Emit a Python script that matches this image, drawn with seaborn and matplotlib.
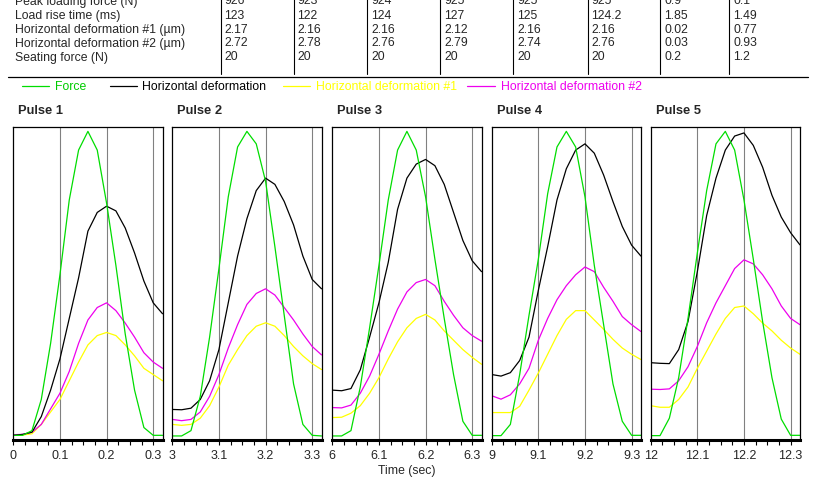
import numpy as np
import pandas as pd
import seaborn as sns
from matplotlib import pyplot as plt
from matplotlib.lines import Line2D

# time within each pulse (s) and pulse start offsets (s)
t = [0, 0.02, 0.04, 0.06, 0.08, 0.10, 0.12, 0.14, 0.16, 0.18, 0.20, 0.22, 0.24, 0.26, 0.28, 0.30, 0.32]
offsets = [0, 3, 6, 9, 12]
pulse_names = ['Pulse 1', 'Pulse 2', 'Pulse 3', 'Pulse 4', 'Pulse 5']

# curves as % of full scale
force = [
    [1.5, 1.5, 3, 13, 31, 53, 77, 93, 99, 93, 76, 56, 34, 16, 4, 1.5, 1.5],
    [1.3, 1.3, 3, 14, 33, 55, 78, 94, 99, 95, 83, 62, 40, 18, 5, 1.5, 1.3],
    [1.3, 1.3, 3, 17, 36, 56, 77, 93, 99, 93, 78, 58, 39, 21, 6, 1.5, 1.5],
    [1.4, 1.4, 5, 21, 40, 58, 79, 94, 99, 94, 78, 56, 37, 18, 6, 1.5, 1.5],
    [1.4, 1.4, 7, 20, 39, 60, 80, 95, 99, 93, 77, 58, 38, 20, 6.7, 1.5, 1.5],
]
hdef = [
    [1.5, 1.8, 2.5, 7.5, 16, 26, 39, 52, 67, 73, 75, 73.5, 68, 60, 51, 44, 40.5],
    [9.8, 9.7, 10.2, 13, 19, 29, 44, 59, 71, 80, 84, 82, 76.5, 69, 59, 51.5, 48.5],
    [16, 15.8, 16.5, 22.5, 33, 44, 57, 74, 84, 88.5, 90, 88, 82, 73, 64, 57.5, 54],
    [21, 20.5, 21.6, 25.5, 33, 48, 62, 77, 87, 93, 95, 92, 85, 76.5, 68.5, 62.5, 59],
    [24.8, 24.6, 24.5, 29, 38, 54, 72, 84, 93, 97.5, 98.5, 94.5, 87.5, 78.5, 71.5, 66.5, 62.6],
]
hdef1 = [
    [1.5, 1.6, 2, 5, 9, 13, 19, 25, 30.5, 33.5, 34.5, 33.5, 30.5, 27, 23, 21, 19],
    [5, 4.7, 5, 7, 11, 17, 24, 29, 33.5, 36.5, 37.6, 36.5, 33.5, 30, 27, 24.5, 22.6],
    [7.2, 7.3, 8.6, 11, 15, 20, 26, 31.5, 36, 39, 40.3, 38.5, 35, 32, 29, 26.5, 24.3],
    [8.8, 8.8, 8.8, 10.8, 16, 21.5, 27.5, 33.5, 38.7, 41.5, 41.5, 38.5, 35.5, 32.3, 29.5, 27.5, 25.8],
    [11, 10.5, 10.5, 13, 17, 23, 28.5, 34, 39, 42.5, 43, 40.5, 37.5, 35, 32, 29.5, 27.5],
]
hdef2 = [
    [1.7, 1.8, 2.5, 5, 10, 15, 22, 31, 38.5, 42.5, 44, 41.5, 37.5, 33, 28, 25, 23],
    [6.6, 6.2, 6.6, 9, 14, 21, 29.5, 37, 43.5, 47, 48.5, 46.5, 42.5, 38.5, 34, 30, 27.3],
    [10.4, 10.3, 11.2, 15, 20.5, 27.5, 35, 42, 47.5, 50.5, 51.5, 49.5, 44.5, 40, 36, 33.5, 31.7],
    [14.2, 13.1, 14.5, 18, 23, 32, 39, 45, 49.5, 53, 55.5, 54, 49, 44.5, 39.6, 37, 34.8],
    [16.3, 16.2, 16.4, 19, 23.5, 30, 37.6, 44, 49.5, 55, 57.8, 56.5, 53, 48.5, 43, 39, 37],
]

series = ['Horizontal deformation #1', 'Horizontal deformation #2', 'Horizontal deformation', 'Force']
colors = {'Force': '#00dd00', 'Horizontal deformation': '#000000',
          'Horizontal deformation #1': '#ffff00', 'Horizontal deformation #2': '#ee00ee'}
legend_order = ['Force', 'Horizontal deformation', 'Horizontal deformation #1', 'Horizontal deformation #2']
legend_text_colors = ['#00cc00', '#000000', '#ffff00', '#ee00ee']

row_labels = ['Peak loading force (N)', 'Load rise time (ms)', 'Horizontal deformation #1 (\u00b5m)',
              'Horizontal deformation #2 (\u00b5m)', 'Seating force (N)']
table_cols = [
    ['926', '123', '2.17', '2.72', '20'],
    ['923', '122', '2.16', '2.78', '20'],
    ['924', '124', '2.16', '2.76', '20'],
    ['925', '127', '2.12', '2.79', '20'],
    ['925', '125', '2.16', '2.74', '20'],
    ['925', '124.2', '2.16', '2.76', '20'],
    ['0.9', '1.85', '0.02', '0.03', '0.2'],
    ['0.1', '1.49', '0.77', '0.93', '1.2'],
]

rows = []
for i in range(5):
    for name, vals in zip(['Force', 'Horizontal deformation', 'Horizontal deformation #1',
                           'Horizontal deformation #2'], [force[i], hdef[i], hdef1[i], hdef2[i]]):
        for tt, v in zip(t, vals):
            rows.append((i, offsets[i] + tt, name, v))
df = pd.DataFrame(rows, columns=['pulse', 'time', 'series', 'value'])

sns.set_style('white')
plt.rcParams['font.family'] = ['Liberation Sans', 'DejaVu Sans']

W, H = 816, 481
fig = plt.figure(figsize=(W / 100, H / 100), dpi=100)


def fx(x):
    return x / W


def fy(y):
    return 1 - y / H


# summary table (top row is cut by the image edge, as in the original)
fs = 8.8
row_y = [1.5, 15.7, 29.7, 43.5, 57.5]
col_x = [224, 297.5, 371, 444.5, 517.5, 591, 664.5, 733]
sep_x = [220.5, 293.5, 366.8, 440, 513.3, 587.5, 660, 729.3]
for lab, y in zip(row_labels, row_y):
    fig.text(fx(15), fy(y), lab, fontsize=fs, va='center', ha='left')
for cx, col in zip(col_x, table_cols):
    for val, y in zip(col, row_y):
        fig.text(fx(cx), fy(y), val, fontsize=fs, va='center', ha='left')
for sx in sep_x:
    fig.add_artist(Line2D([fx(sx), fx(sx)], [fy(0), fy(75)], color='black', lw=0.8))
fig.add_artist(Line2D([fx(8), fx(808)], [fy(78.3), fy(78.3)], color='black', lw=0.9))

# legend row
leg_lines = [(21.7, 49.3), (109.5, 137), (282.7, 310), (466.7, 495)]
for (x0, x1), name, tc in zip(leg_lines, legend_order, legend_text_colors):
    fig.add_artist(Line2D([fx(x0), fx(x1)], [fy(87.3), fy(87.3)], color=colors[name], lw=0.9))
    fig.text(fx(x1 + 5.5), fy(87.3), name, fontsize=fs, va='center', ha='left', color=tc)

# pulse panels
lefts = [13.3, 172.3, 332.3, 491.7, 650.7]
for i in range(5):
    ax = fig.add_axes([fx(lefts[i]), fy(441), 149.7 / W, 313.3 / H])
    sub = df[df.pulse == i]
    sns.lineplot(data=sub, x='time', y='value', hue='series', hue_order=series,
                 palette=colors, legend=False, ax=ax, lw=0.9)
    off = offsets[i]
    ax.set_xlim(off, off + 0.321)
    ax.set_ylim(0, 100.5)
    major = [off + 0.1 * k for k in range(4)]
    ax.set_xticks(major)
    ax.set_xticklabels(['{:g}'.format(round(m, 1)) for m in major], fontsize=9)
    ax.set_xticks([off + 0.025 * k for k in range(13)], minor=True)
    for m in major[1:]:
        ax.axvline(m, color='#808080', lw=0.8, zorder=0)
    ax.set_yticks([])
    ax.set_xlabel('')
    ax.set_ylabel('')
    for s in ax.spines.values():
        s.set_color('black')
        s.set_linewidth(0.9)
    ax.spines['bottom'].set_linewidth(2.2)
    ax.tick_params(axis='x', which='both', direction='out', bottom=True, length=3.5,
                   width=0.8, color='black', pad=3)
    fig.text(fx(lefts[i] + 5), fy(110.7), pulse_names[i], fontsize=9.3, fontweight='bold',
             va='center', ha='left')

fig.text(fx(406.5), fy(471.5), 'Time (sec)', fontsize=8.8, ha='center', va='center')

plt.savefig('out.png', dpi=100)
